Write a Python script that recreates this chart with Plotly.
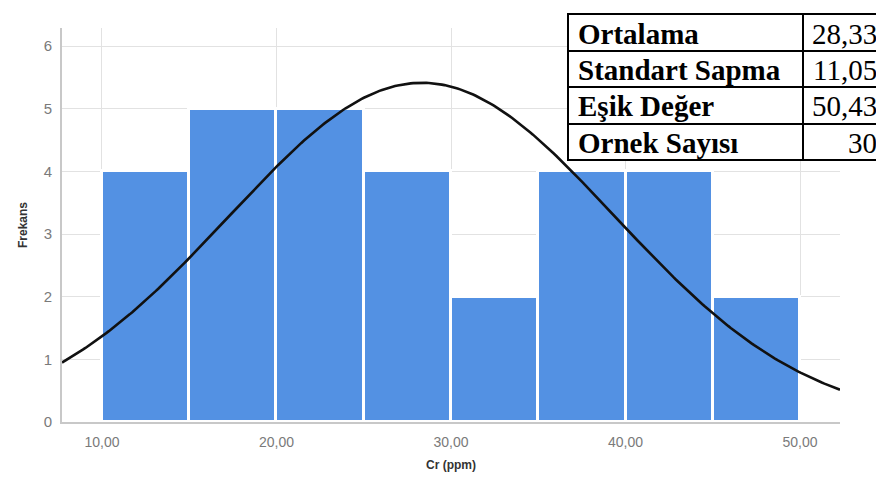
import numpy as np
import plotly.graph_objects as go

# Data
bin_left = [10, 15, 20, 25, 30, 35, 40, 45]
counts = [4, 5, 5, 4, 2, 4, 4, 2]
bin_width = 5
x_ticks = [10, 20, 30, 40, 50]
x_tick_labels = ["10,00", "20,00", "30,00", "40,00", "50,00"]
y_ticks = [0, 1, 2, 3, 4, 5, 6]
stat_labels = ["Ortalama", "Standart Sapma", "Eşik Değer", "Ornek Sayısı"]
stat_values = ["28,33", "11,05", "50,43", "30"]
mean_val = 28.33
sd_val = 11.05
n_val = 30

W, H = 884, 482
L, R, T, B = 54, 52, 20, 68
XR = [7.71, 52.29]
YR = [0, 6.29]

fig = go.Figure()

centers = [b + bin_width / 2 for b in bin_left]
fig.add_trace(go.Bar(
    x=centers, y=counts, width=[bin_width] * len(counts),
    marker=dict(color="#5391E3", line=dict(color="white", width=3)),
    hoverinfo="skip", showlegend=False,
))

xs = np.linspace(XR[0], XR[1], 300)
ys = n_val * bin_width * np.exp(-0.5 * ((xs - mean_val) / sd_val) ** 2) / (sd_val * np.sqrt(2 * np.pi))
fig.add_trace(go.Scatter(x=xs, y=ys, mode="lines",
                         line=dict(color="#111111", width=2.6),
                         hoverinfo="skip", showlegend=False))

pw = W - L - R
ph = H - T - B


def px(xp):
    return (xp - L) / pw


def py(yp):
    return (H - B - yp) / ph


# Table
tx0, tx1, tmid = 560, 879, 795
row_y = [6, 43, 79, 116, 152]
shapes = []
shapes.append(dict(type="rect", xref="paper", yref="paper",
                   x0=px(tx0), x1=px(tx1), y0=py(row_y[-1]), y1=py(row_y[0]),
                   fillcolor="white", line=dict(color="black", width=2), layer="above"))
for ry in row_y[1:-1]:
    shapes.append(dict(type="line", xref="paper", yref="paper",
                       x0=px(tx0), x1=px(tx1), y0=py(ry), y1=py(ry),
                       line=dict(color="black", width=2), layer="above"))
shapes.append(dict(type="line", xref="paper", yref="paper",
                   x0=px(tmid), x1=px(tmid), y0=py(row_y[-1]), y1=py(row_y[0]),
                   line=dict(color="black", width=2), layer="above"))

annotations = []
for i, (lab, val) in enumerate(zip(stat_labels, stat_values)):
    cy = (row_y[i] + row_y[i + 1]) / 2 + 1
    annotations.append(dict(x=px(568), y=py(cy), xref="paper", yref="paper",
                            text="<b>" + lab + "</b>", showarrow=False,
                            xanchor="left", yanchor="middle",
                            font=dict(family="Liberation Serif", size=29, color="black")))
    annotations.append(dict(x=px(871), y=py(cy), xref="paper", yref="paper",
                            text=val, showarrow=False,
                            xanchor="right", yanchor="middle",
                            font=dict(family="Liberation Serif", size=29, color="black")))

fig.update_layout(
    width=W, height=H,
    margin=dict(l=L, r=R, t=T, b=B, pad=0, autoexpand=False),
    paper_bgcolor="white", plot_bgcolor="white",
    bargap=0,
    font=dict(family="Liberation Sans", color="#777777"),
    xaxis=dict(range=XR, tickvals=x_ticks, ticktext=x_tick_labels,
               automargin=False,
               showgrid=True, gridcolor="#e2e2e2", gridwidth=1,
               showline=True, linecolor="#c8c8c8", linewidth=2,
               zeroline=False, ticks="", tickfont=dict(size=14, color="#7a7a7a"),
               ticklabelstandoff=6,
               title=dict(text="<b>Cr (ppm)</b>", font=dict(size=12, color="#333333"),
                          standoff=12)),
    yaxis=dict(range=YR, tickvals=y_ticks,
               automargin=False,
               showgrid=True, gridcolor="#e2e2e2", gridwidth=1,
               showline=True, linecolor="#c8c8c8", linewidth=2,
               zeroline=False, ticks="", tickfont=dict(size=15, color="#7a7a7a"),
               ticklabelstandoff=5,
               title=dict(text="<b>Frekans</b>", font=dict(size=12, color="#333333"),
                          standoff=13)),
    shapes=shapes,
    annotations=annotations,
)

fig.write_html("out.html")
